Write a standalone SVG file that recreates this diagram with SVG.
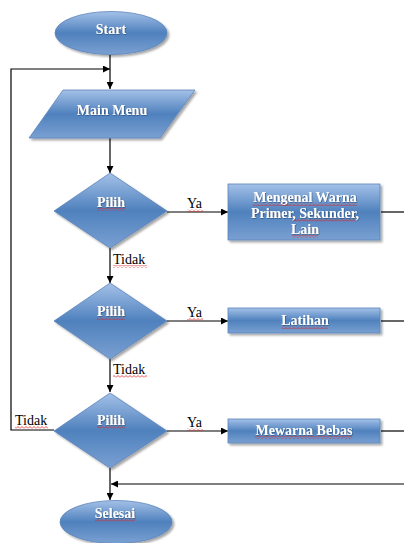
<svg xmlns="http://www.w3.org/2000/svg" width="404" height="543" viewBox="0 0 404 543">
<defs>
<linearGradient id="g" x1="0" y1="0" x2="0" y2="1">
<stop offset="0" stop-color="#a4c1e8"/>
<stop offset="0.5" stop-color="#4f81bd"/>
<stop offset="1" stop-color="#7aa0d2"/>
</linearGradient>
<filter id="sh" x="-10%" y="-10%" width="130%" height="140%">
<feDropShadow dx="2" dy="2" stdDeviation="1" flood-color="#000" flood-opacity="0.35"/>
</filter>
<filter id="tsh" x="-10%" y="-30%" width="120%" height="160%">
<feDropShadow dx="0.6" dy="0.6" stdDeviation="0.4" flood-color="#1f3a66" flood-opacity="0.8"/>
</filter>
<pattern id="sq" x="0" y="0" width="4" height="3" patternUnits="userSpaceOnUse">
<polyline points="0,2.5 2,0.5 4,2.5" fill="none" stroke="#e02020" stroke-width="0.8"/>
</pattern>
<marker id="ah" viewBox="0 0 10 10" refX="10" refY="5" markerWidth="7" markerHeight="7" markerUnits="userSpaceOnUse" orient="auto">
<path d="M0,0 L10,5 L0,10 z" fill="#000"/>
</marker>
</defs>
<style>
.shape{fill:url(#g);stroke:#5b84bb;stroke-width:0.8;filter:url(#sh)}
.t{font-family:"Liberation Serif","Times New Roman",serif;font-weight:bold;font-size:14px;fill:#fff;text-anchor:middle;filter:url(#tsh)}
.lbl{font-family:"Liberation Serif","Times New Roman",serif;font-size:14px;fill:#000}
.c{fill:none;stroke:#000;stroke-width:1.2}
.a{marker-end:url(#ah)}
.sq{fill:url(#sq)}
</style>
<rect width="404" height="543" fill="#fff"/>

<g id="connectors">
<path class="c a" d="M110,55 V89"/>
<path class="c a" d="M54,430 H11 V69 H110"/>
<path class="c a" d="M110,138 V173"/>
<path class="c a" d="M167,212 H228"/>
<path class="c" d="M381,212 H404"/>
<path class="c a" d="M110,248 V283"/>
<path class="c a" d="M167,321 H228"/>
<path class="c" d="M381,321 H404"/>
<path class="c a" d="M110,359 V392"/>
<path class="c a" d="M167,431 H228"/>
<path class="c" d="M381,431 H404"/>
<path class="c a" d="M110,468 V500"/>
<path class="c a" d="M404,484 H111"/>
<text class="lbl" x="187" y="208">Ya</text>
<text class="lbl" x="187" y="317">Ya</text>
<text class="lbl" x="187" y="427">Ya</text>
<text class="lbl" x="113" y="264">Tidak</text>
<text class="lbl" x="113" y="374">Tidak</text>
<text class="lbl" x="15" y="425">Tidak</text>
</g>

<g id="start">
<ellipse class="shape" cx="111" cy="33" rx="56" ry="21.5"/>
<text class="t" x="111" y="34">Start</text>
</g>
<g id="main-menu">
<polygon class="shape" points="63,90 195,90 160,138 29,138"/>
<text class="t" x="112" y="115">Main Menu</text>
</g>
<g id="pilih1">
<polygon class="shape" points="110,173 167,211 110,248 54,211"/>
<text class="t" x="111" y="207">Pilih</text>
</g>
<g id="mengenal">
<rect class="shape" x="228" y="184" width="152" height="56"/>
<text class="t" x="305" y="202">Mengenal Warna</text>
<text class="t" x="305" y="218">Primer, Sekunder,</text>
<text class="t" x="305" y="234">Lain</text>
</g>
<g id="pilih2">
<polygon class="shape" points="110,283 167,321 110,359 54,321"/>
<text class="t" x="111" y="316">Pilih</text>
</g>
<g id="latihan">
<rect class="shape" x="228" y="308" width="152" height="25"/>
<text class="t" x="305" y="325">Latihan</text>
</g>
<g id="pilih3">
<polygon class="shape" points="110,393 167,431 110,468 54,431"/>
<text class="t" x="111" y="425">Pilih</text>
</g>
<g id="mewarna">
<rect class="shape" x="228" y="419" width="152" height="24"/>
<text class="t" x="304" y="435">Mewarna Bebas</text>
</g>
<g id="selesai">
<ellipse class="shape" cx="116" cy="522" rx="56" ry="21.5"/>
<text class="t" x="115" y="518">Selesai</text>
</g>

<g id="spellcheck">
<rect class="sq" x="97" y="208" width="28" height="3"/>
<rect class="sq" x="97" y="317" width="28" height="3"/>
<rect class="sq" x="97" y="426" width="28" height="3"/>
<rect class="sq" x="187" y="209" width="16" height="3"/>
<rect class="sq" x="187" y="318" width="16" height="3"/>
<rect class="sq" x="187" y="428" width="16" height="3"/>
<rect class="sq" x="113" y="265" width="34" height="3"/>
<rect class="sq" x="113" y="375" width="34" height="3"/>
<rect class="sq" x="15" y="426" width="33" height="3"/>
<rect class="sq" x="253" y="203" width="104" height="3"/>
<rect class="sq" x="294" y="219" width="62" height="3"/>
<rect class="sq" x="292" y="235" width="26" height="3"/>
<rect class="sq" x="282" y="326" width="46" height="3"/>
<rect class="sq" x="255" y="436" width="97" height="3"/>
<rect class="sq" x="95" y="519" width="40" height="3"/>
</g>
</svg>
